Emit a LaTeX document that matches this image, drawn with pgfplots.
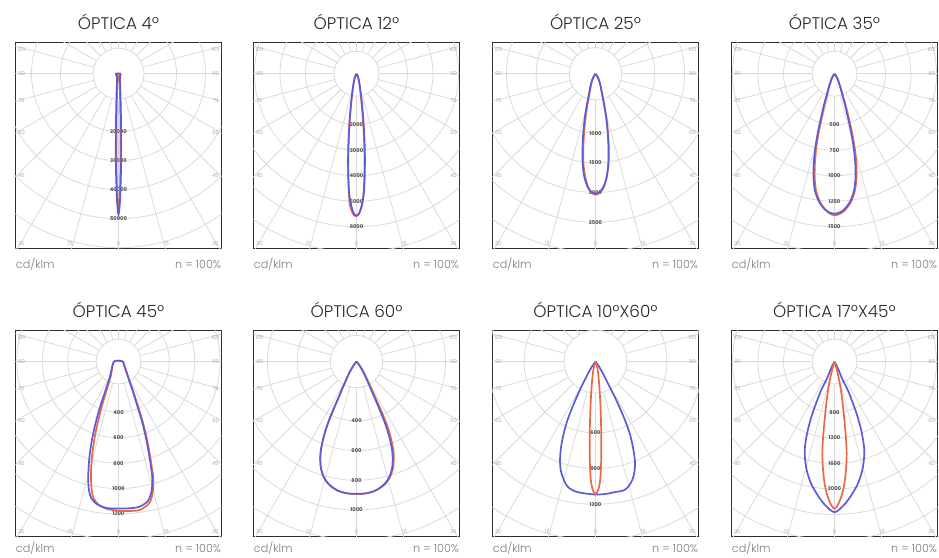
\documentclass[border=0pt]{standalone}
\usepackage{pgfplots}
\pgfplotsset{compat=1.18}
\usepackage{fontspec}
\setmainfont{Poppins Light}
\newfontfamily\labfont{Poppins}

\definecolor{cblue}{RGB}{92,92,218}
\definecolor{cred}{RGB}{234,104,72}
\definecolor{gridc}{RGB}{218,218,218}
\definecolor{framec}{RGB}{45,45,45}
\definecolor{labc}{RGB}{150,150,150}
\definecolor{ilabc}{RGB}{85,85,85}
\definecolor{titc}{RGB}{40,40,40}
\definecolor{footc}{RGB}{125,125,125}

\newcommand\tinyfont{\fontsize{2.6}{3}\selectfont}

\pgfplotsset{
  photo/.style={
    scale only axis, width=103pt, height=103pt,
    xmin=-103, xmax=103, ymin=-175, ymax=31,
    disabledatascaling,
    axis line style={framec, line width=0.6pt},
    ticks=none, anchor=north west, clip=true,
  },
  cb/.style={cblue, line width=0.85pt, smooth, tension=0.5},
  cr/.style={cred, line width=0.85pt, smooth, tension=0.5},
}
\tikzset{
  alab/.style={labc, font=\tinyfont, inner sep=0pt},
  ilab/.style={ilabc, font=\labfont\bfseries\fontsize{2.6}{3}\selectfont, inner sep=0pt},
}

% polar grid, ring spacing #1 (axis units)
\newcommand\polargrid[1]{%
  \draw[gridc, line width=0.4pt] (axis cs:0,0) circle[radius=0.88*#1];
  \pgfplotsinvokeforeach{2,3,4,5,6,7,8,9}{%
    \draw[gridc, line width=0.4pt] (axis cs:0,0) circle[radius=##1*#1];}
  \pgfplotsinvokeforeach{0,15,30,45,60,75,90,105,120,135,150,165,180,195,210,225,240,255,270,285,300,315,330,345}{%
    \draw[gridc, line width=0.4pt] (axis cs:{0.88*#1*cos(##1)},{0.88*#1*sin(##1)}) -- (axis cs:{260*cos(##1)},{260*sin(##1)});}
  \node[alab] at (axis cs:-97,24) {105};
  \node[alab] at (axis cs:-97,0) {90};
  \node[alab] at (axis cs:-97,-27) {75};
  \node[alab] at (axis cs:-97,-59) {60};
  \node[alab] at (axis cs:-97,-102) {45};
  \node[alab] at (axis cs:97,24) {105};
  \node[alab] at (axis cs:97,0) {90};
  \node[alab] at (axis cs:97,-27) {75};
  \node[alab] at (axis cs:97,-59) {60};
  \node[alab] at (axis cs:97,-102) {45};
  \node[alab] at (axis cs:-97,-170) {30};
  \node[alab] at (axis cs:-48,-170) {15};
  \node[alab] at (axis cs:0,-170) {0};
  \node[alab] at (axis cs:48,-170) {15};
  \node[alab] at (axis cs:97,-170) {30};
}

\begin{document}
\begin{tikzpicture}
\useasboundingbox (0,0) rectangle (469.5pt,279pt);

% ---------- row 1 ----------
\begin{axis}[photo, at={(7.75pt,257.65pt)}]
\polargrid{29}
\node[ilab] at (axis cs:0,-58) {20000};
\node[ilab] at (axis cs:0,-87) {30000};
\node[ilab] at (axis cs:0,-116) {40000};
\node[ilab] at (axis cs:0,-145) {50000};
\addplot[cr] coordinates {(0,0) (1,-6) (1.6,-25) (2,-55) (2,-90) (1.5,-115) (0.9,-128) (0,-137) (-0.9,-128) (-1.5,-115) (-2,-90) (-2,-55) (-1.6,-25) (-1,-6) (0,0)};
\addplot[cb] coordinates {(2.5,0) (1.5,-5) (2.1,-25) (2.6,-55) (2.6,-90) (2,-115) (1.3,-130) (0,-141) (-1.3,-130) (-2,-115) (-2.6,-90) (-2.6,-55) (-2.1,-25) (-1.5,-5) (-2.5,0) (2.5,0)};
\end{axis}

\begin{axis}[photo, at={(126.75pt,257.65pt)}]
\polargrid{25.5}
\node[ilab] at (axis cs:0,-51) {2000};
\node[ilab] at (axis cs:0,-76.5) {3000};
\node[ilab] at (axis cs:0,-102) {4000};
\node[ilab] at (axis cs:0,-127.5) {5000};
\node[ilab] at (axis cs:0,-153) {6000};
\addplot[cr] coordinates {(0,0) (1.4,-3) (2.8,-10) (4.6,-25) (6.6,-48) (7.8,-75) (7.9,-100) (7,-120) (5,-133) (2,-140.5) (-1,-142.5) (-3.5,-140) (-6.5,-132) (-7.6,-120) (-8.2,-100) (-8,-75) (-6.8,-48) (-4.8,-25) (-2.9,-10) (-1.4,-3) (0,0)};
\addplot[cb] coordinates {(0,0) (1.5,-3) (3,-10) (5,-25) (7,-48) (8.3,-75) (8.3,-100) (7.3,-120) (5,-133) (2.5,-140) (0,-142) (-2.5,-140) (-5,-133) (-7.3,-120) (-8.3,-100) (-8.3,-75) (-7,-48) (-5,-25) (-3,-10) (-1.5,-3) (0,0)};
\end{axis}

\begin{axis}[photo, at={(246.25pt,257.65pt)}]
\polargrid{29.7}
\node[ilab] at (axis cs:0,-59.4) {1000};
\node[ilab] at (axis cs:0,-89.1) {1500};
\node[ilab] at (axis cs:0,-118.8) {2000};
\node[ilab] at (axis cs:0,-148.5) {2500};
\addplot[cr] coordinates {(0,0) (2.5,-4) (4.6,-10) (6.7,-20) (9,-32) (11,-45) (12.6,-60) (13.3,-75) (13,-90) (11.4,-103) (8.3,-113.5) (4.3,-119.3) (0,-121) (-4,-119) (-7.5,-113) (-10.5,-102) (-12,-90) (-12.2,-75) (-11.5,-60) (-10,-45) (-8.2,-32) (-6,-20) (-4.2,-10) (-2.3,-4) (0,0)};
\addplot[cb] coordinates {(0,0) (2.5,-4) (4.5,-10) (6.5,-20) (8.8,-32) (10.8,-45) (12.3,-60) (13,-75) (12.8,-90) (11.2,-103) (8,-113) (4,-118.5) (0,-120) (-4,-118.5) (-8,-113) (-11.2,-103) (-12.8,-90) (-13,-75) (-12.3,-60) (-10.8,-45) (-8.8,-32) (-6.5,-20) (-4.5,-10) (-2.5,-4) (0,0)};
\end{axis}

\begin{axis}[photo, at={(365.75pt,257.65pt)}]
\polargrid{25.5}
\node[ilab] at (axis cs:0,-51) {500};
\node[ilab] at (axis cs:0,-76.5) {750};
\node[ilab] at (axis cs:0,-102) {1000};
\node[ilab] at (axis cs:0,-127.5) {1250};
\node[ilab] at (axis cs:0,-153) {1500};
\addplot[cr] coordinates {(0,0) (2.6,-4) (5.2,-11) (7.9,-20) (11,-31) (14.2,-44) (17.4,-58) (20.2,-74) (21.9,-90) (22,-104) (20.4,-117) (16.3,-128.5) (10,-137) (4.8,-140.5) (0,-141.5) (-4.5,-140) (-9,-136) (-14.8,-127.5) (-18.5,-116.5) (-19.8,-104) (-19.6,-90) (-18.2,-74) (-15.7,-58) (-12.8,-44) (-9.9,-31) (-7,-20) (-4.7,-11) (-2.4,-4) (0,0)};
\addplot[cb] coordinates {(0,0) (2.5,-4) (5,-11) (7.5,-20) (10.5,-31) (13.5,-44) (16.5,-58) (19.2,-74) (20.8,-90) (21,-104) (19.5,-117) (15.5,-128) (9.5,-136) (4.5,-139) (0,-140) (-4.5,-139) (-9.5,-136) (-15.5,-128) (-19.5,-117) (-21,-104) (-20.8,-90) (-19.2,-74) (-16.5,-58) (-13.5,-44) (-10.5,-31) (-7.5,-20) (-5,-11) (-2.5,-4) (0,0)};
\end{axis}

% ---------- row 2 ----------
\begin{axis}[photo, at={(7.75pt,113.75pt)}]
\polargrid{25.4}
\node[ilab] at (axis cs:0,-50.8) {400};
\node[ilab] at (axis cs:0,-76.2) {600};
\node[ilab] at (axis cs:0,-101.6) {800};
\node[ilab] at (axis cs:0,-127) {1000};
\node[ilab] at (axis cs:0,-152.4) {1200};
\addplot[cr] coordinates {(4.5,0) (7.3,-8) (11.4,-20) (15.5,-32) (19.6,-45) (23.6,-58) (27.2,-72) (30.3,-87) (32.8,-102) (34.8,-117) (34.3,-131) (30.5,-142) (21,-148.5) (10,-149.5) (0,-149.3) (-11,-147.5) (-19.5,-143.5) (-24.8,-137) (-27,-127) (-27.5,-112) (-26.5,-95) (-24.2,-78) (-20.5,-60) (-16.4,-44) (-12,-29) (-7.8,-15) (-4.5,0) (4.5,0)};
\addplot[cb] coordinates {(4.5,0) (7,-8) (11,-20) (15,-32) (19,-45) (23,-58) (26.5,-72) (29.5,-87) (32,-102) (33.8,-117) (33,-130) (29,-140) (20,-145.5) (10,-146.8) (0,-147) (-12,-146.5) (-21,-143) (-27,-137) (-29.8,-127) (-30.2,-112) (-29,-95) (-26.5,-78) (-22.5,-60) (-18,-44) (-13,-29) (-8.5,-15) (-4.5,0) (4.5,0)};
\end{axis}

\begin{axis}[photo, at={(126.75pt,113.75pt)}]
\polargrid{29.7}
\node[ilab] at (axis cs:0,-59.4) {400};
\node[ilab] at (axis cs:0,-89.1) {600};
\node[ilab] at (axis cs:0,-118.8) {800};
\node[ilab] at (axis cs:0,-148.5) {1000};
\addplot[cr] coordinates {(0,0) (3.2,-4) (7.4,-11) (12.6,-22) (18.4,-35) (24.6,-49) (30.3,-63) (34.8,-78) (37.2,-92) (36.8,-105) (33.8,-115) (28.2,-123) (19.3,-129) (9.6,-131.9) (0,-132.5) (-9.5,-131.8) (-19,-129) (-27.5,-123) (-33,-115) (-35.8,-105) (-36,-92) (-33.5,-78) (-29,-63) (-23.5,-49) (-17.5,-35) (-12,-22) (-7,-11) (-3,-4) (0,0)};
\addplot[cb] coordinates {(0,0) (3,-4) (7,-11) (12,-22) (17.5,-35) (23.5,-49) (29,-63) (33.5,-78) (36,-92) (35.8,-105) (33,-115) (27.5,-123) (19,-129) (9.5,-131.8) (0,-132.3) (-9.5,-131.8) (-19,-129) (-27.5,-123) (-33,-115) (-35.8,-105) (-36,-92) (-33.5,-78) (-29,-63) (-23.5,-49) (-17.5,-35) (-12,-22) (-7,-11) (-3,-4) (0,0)};
\end{axis}

\begin{axis}[photo, at={(246.25pt,113.75pt)}]
\polargrid{35.7}
\node[ilab] at (axis cs:0,-71.4) {600};
\node[ilab] at (axis cs:0,-107.1) {900};
\node[ilab] at (axis cs:0,-142.8) {1200};
\addplot[cb] coordinates {(0,0) (3.5,-5) (8.5,-14) (14,-25) (19.5,-36) (25,-48) (30,-60) (34.5,-73) (37.5,-86) (39.5,-100) (39,-110) (37,-118) (33,-125) (28,-129) (20,-130.5) (10,-132.5) (0,-133) (-10,-132) (-20,-130) (-27,-126) (-31,-120) (-34.5,-110) (-35.5,-100) (-34.5,-86) (-32,-73) (-28.5,-60) (-24,-48) (-19,-36) (-14,-25) (-8.5,-14) (-3.5,-5) (0,0)};
\addplot[cr] coordinates {(0,0) (1.5,-5) (3,-15) (4.5,-35) (5.5,-60) (5.8,-85) (5.5,-105) (4.5,-120) (2.5,-129) (0,-132.5) (-2.5,-129) (-4.5,-120) (-5.5,-105) (-5.8,-85) (-5.5,-60) (-4.5,-35) (-3,-15) (-1.5,-5) (0,0)};
\end{axis}

\begin{axis}[photo, at={(365.75pt,113.75pt)}]
\polargrid{25.5}
\node[ilab] at (axis cs:0,-51) {800};
\node[ilab] at (axis cs:0,-76.5) {1200};
\node[ilab] at (axis cs:0,-102) {1600};
\node[ilab] at (axis cs:0,-127.5) {2000};
\addplot[cb] coordinates {(0,0) (3.5,-7) (8,-18) (13.5,-29) (18.5,-42) (23,-55) (27,-70) (29.5,-85) (29.5,-97) (27.5,-110) (23,-123) (16,-135) (9,-144) (0,-150.7) (-9,-144) (-16,-135) (-23,-123) (-27.5,-110) (-29.5,-97) (-29.5,-85) (-27,-70) (-23,-55) (-18.5,-42) (-13.5,-29) (-8,-18) (-3.5,-7) (0,0)};
\addplot[cr] coordinates {(0,0) (2.3,-8) (4.5,-18) (6.5,-29) (8.5,-45) (10.5,-65) (12,-85) (12,-100) (10.5,-118) (8,-131) (4.5,-141) (0,-147.3) (-4.5,-141) (-8,-131) (-10.5,-118) (-12,-100) (-12,-85) (-10.5,-65) (-8.5,-45) (-6.5,-29) (-4.5,-18) (-2.3,-8) (0,0)};
\end{axis}

% ---------- titles and footers ----------
\begin{scope}[every node/.style={inner sep=0pt}]
\foreach \xc/\t in {59.25/{ÓPTICA 4º}, 178.25/{ÓPTICA 12º}, 297.75/{ÓPTICA 25º}, 417.25/{ÓPTICA 35º}}
  \node[anchor=base, titc, font=\fontsize{8.4}{10}\selectfont] at (\xc pt,264.35pt) {\t};
\foreach \xc/\t in {59.25/{ÓPTICA 45º}, 178.25/{ÓPTICA 60º}, 297.75/{ÓPTICA 10ºX60º}, 417.25/{ÓPTICA 17ºX45º}}
  \node[anchor=base, titc, font=\fontsize{8.4}{10}\selectfont] at (\xc pt,120pt) {\t};
\foreach \xl in {7.75,126.75,246.25,365.75}{
  \node[anchor=base west, footc, font=\fontsize{5.6}{7}\selectfont] at (\xl pt,144.5pt) {cd/klm};
  \node[anchor=base east, footc, font=\fontsize{5.6}{7}\selectfont] at (\xl pt+103pt,144.5pt) {n = 100\%};
  \node[anchor=base west, footc, font=\fontsize{5.6}{7}\selectfont] at (\xl pt,2.75pt) {cd/klm};
  \node[anchor=base east, footc, font=\fontsize{5.6}{7}\selectfont] at (\xl pt+103pt,2.75pt) {n = 100\%};
}
\end{scope}
\end{tikzpicture}
\end{document}
